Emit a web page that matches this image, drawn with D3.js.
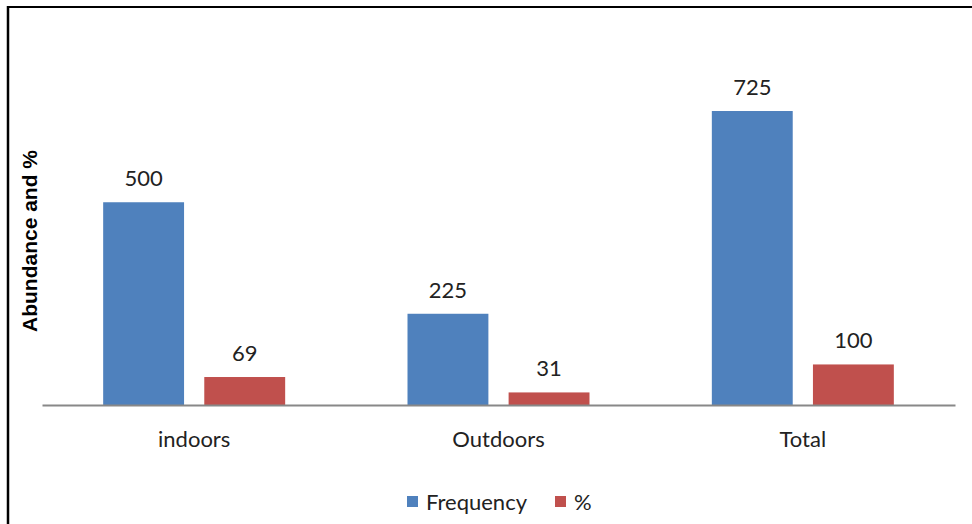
<!DOCTYPE html>
<html><head><meta charset="utf-8">
<script src="https://cdn.jsdelivr.net/npm/d3@7"></script>
<style>body{margin:0;background:#fff}</style>
</head><body>
<script>
const categories = ["indoors", "Outdoors", "Total"];
const seriesNames = ["Frequency", "%"];
const frequency = [500, 225, 725];
const percent = [69, 31, 100];
const colors = ["#4F81BD", "#C0504D"];

const W = 972, H = 524;
const svg = d3.select("body").append("svg").attr("width", W).attr("height", H);
svg.append("rect").attr("width", W).attr("height", H).attr("fill", "#fff");
// frame (top and left visible)
svg.append("line").attr("x1", 8).attr("x2", W).attr("y1", 7).attr("y2", 7).attr("stroke", "#000").attr("stroke-width", 2);
svg.append("line").attr("x1", 8).attr("x2", 8).attr("y1", 6).attr("y2", H).attr("stroke", "#000").attr("stroke-width", 2.5);

const left = 42, right = 955, base = 405;
const x = d3.scaleBand().domain(categories).range([left, right]);
const x1 = d3.scaleBand().domain(seriesNames).range([0, 182]).paddingInner(0.2);
const y = d3.scaleLinear().domain([0, 800]).range([base, base - 800 * 0.4055]);

const data = categories.map((c, i) => ({c, vals: [frequency[i], percent[i]]}));
const font = "Lato, 'Open Sans', sans-serif";
const fs = 22;
const g = svg.append("g");
data.forEach(d => {
  const x0 = x(d.c) + (x.bandwidth() - 182) / 2;
  d.vals.forEach((v, j) => {
    const bx = x0 + x1(seriesNames[j]);
    g.append("rect").attr("x", bx).attr("y", y(v)).attr("width", x1.bandwidth()).attr("height", base - y(v)).attr("fill", colors[j]);
    g.append("text").attr("x", bx + x1.bandwidth() / 2).attr("y", y(v) - 16)
      .attr("text-anchor", "middle").attr("font-family", font).attr("font-size", fs).attr("fill", "#222").text(v);
  });
});

// x axis
const xa = svg.append("g").attr("transform", `translate(0,${base})`).call(d3.axisBottom(x).tickSize(0).tickPadding(0));
xa.select(".domain").attr("stroke", "#888").attr("stroke-width", 2);
xa.selectAll("text").attr("font-family", font).attr("font-size", fs).attr("fill", "#222").attr("dy", null).attr("y", 42);

// y title
svg.append("text").attr("transform", "translate(37,241) rotate(-90)").attr("text-anchor", "middle")
  .attr("font-family", "'Liberation Sans', Arial, sans-serif").attr("font-weight", "bold").attr("font-size", 21).attr("fill", "#000")
  .text("Abundance and %");

// legend
const leg = svg.append("g");
const legItems = [{n: seriesNames[0], x: 407}, {n: seriesNames[1], x: 555}];
legItems.forEach((it, i) => {
  leg.append("rect").attr("x", it.x).attr("y", 496).attr("width", 11).attr("height", 11).attr("fill", colors[i]);
  leg.append("text").attr("x", it.x + 19).attr("y", 510).attr("font-family", font).attr("font-size", fs).attr("fill", "#222").text(it.n);
});
</script>
</body></html>
